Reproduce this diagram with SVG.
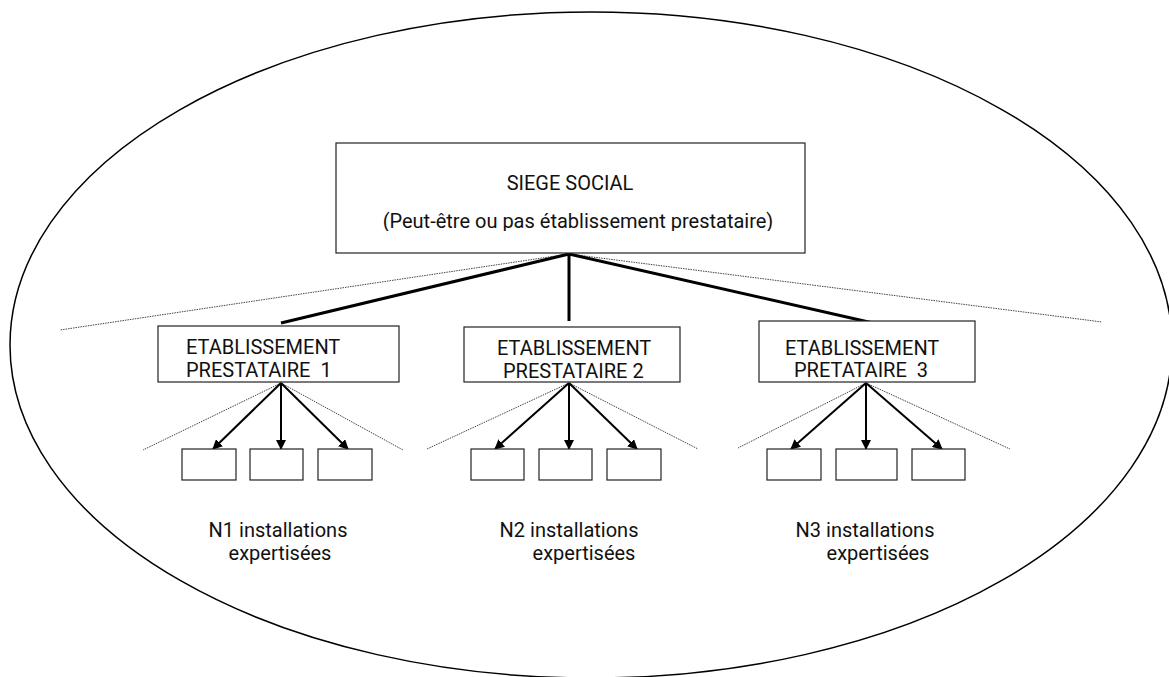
<svg xmlns="http://www.w3.org/2000/svg" width="1169" height="677" viewBox="0 0 1169 677">
<defs>
<style>
.t{font-family:Roboto,"Liberation Sans",sans-serif;fill:#111;font-size:20px;}
.m{text-anchor:middle;}
.box{fill:#fff;stroke:#222;stroke-width:1.2;}
.thick{stroke:#000;stroke-width:3;fill:none;}
.arr{stroke:#000;stroke-width:2;fill:none;marker-end:url(#ah);}
.dot{stroke:#444;stroke-width:1;stroke-dasharray:1.5 1;fill:none;}
</style>
<marker id="ah" viewBox="0 0 10 10" refX="9" refY="5" markerWidth="5" markerHeight="5" orient="auto" markerUnits="strokeWidth">
<path d="M0,0 L10,5 L0,10 z" fill="#000"/>
</marker>
<clipPath id="sc"><rect x="336" y="143" width="469" height="88"/></clipPath>
</defs>
<rect width="1169" height="677" fill="#fff"/>
<ellipse cx="591" cy="345" rx="581" ry="333" fill="none" stroke="#000" stroke-width="1.5"/>
<g id="connectors">
<line class="dot" x1="569" y1="254" x2="60" y2="330"/>
<line class="dot" x1="569" y1="254" x2="1102" y2="322"/>
<line class="thick" x1="569" y1="254" x2="281" y2="323"/>
<line class="thick" x1="569" y1="254" x2="569" y2="321"/>
<line class="thick" x1="569" y1="254" x2="873" y2="323"/>
<line class="dot" x1="281" y1="383" x2="143" y2="450"/>
<line class="dot" x1="281" y1="383" x2="403" y2="450"/>
<line class="arr" x1="281" y1="383" x2="213" y2="449"/>
<line class="arr" x1="281" y1="383" x2="281" y2="449"/>
<line class="arr" x1="281" y1="383" x2="348" y2="449"/>
<line class="dot" x1="569" y1="383" x2="427" y2="449"/>
<line class="dot" x1="569" y1="383" x2="698" y2="449"/>
<line class="arr" x1="569" y1="383" x2="495" y2="449"/>
<line class="arr" x1="569" y1="383" x2="569" y2="449"/>
<line class="arr" x1="569" y1="383" x2="637" y2="449"/>
<line class="dot" x1="866" y1="383" x2="738" y2="448"/>
<line class="dot" x1="866" y1="383" x2="1010" y2="449"/>
<line class="arr" x1="866" y1="383" x2="791" y2="449"/>
<line class="arr" x1="866" y1="383" x2="866" y2="449"/>
<line class="arr" x1="866" y1="383" x2="942" y2="449"/>
</g>
<g id="siege">
<rect class="box" x="336" y="143" width="469" height="110"/>
<text class="t m" x="570" y="190">SIEGE SOCIAL</text>
<text class="t m" x="578" y="228" font-size="22" clip-path="url(#sc)">(Peut-être ou pas établissement prestataire)</text>
</g>
<g id="ep1">
<rect class="box" x="158" y="326" width="241" height="56"/>
<text class="t" x="186" y="354">ETABLISSEMENT</text>
<text class="t" x="186" y="377" xml:space="preserve">PRESTATAIRE  1</text>
</g>
<g id="ep2">
<rect class="box" x="464" y="327" width="216" height="55"/>
<text class="t" x="497" y="355">ETABLISSEMENT</text>
<text class="t" x="503" y="378">PRESTATAIRE 2</text>
</g>
<g id="ep3">
<rect class="box" x="759" y="321" width="216" height="61"/>
<text class="t" x="785" y="355">ETABLISSEMENT</text>
<text class="t" x="794" y="377" xml:space="preserve">PRETATAIRE  3</text>
</g>
<g id="inst1">
<rect class="box" x="182" y="449" width="54" height="31"/>
<rect class="box" x="250" y="449" width="53" height="31"/>
<rect class="box" x="318" y="449" width="54" height="31"/>
<text class="t m" x="278" y="537">N1 installations</text>
<text class="t m" x="280" y="560">expertisées</text>
</g>
<g id="inst2">
<rect class="box" x="471" y="449" width="53" height="31"/>
<rect class="box" x="539" y="449" width="53" height="31"/>
<rect class="box" x="607" y="449" width="54" height="31"/>
<text class="t m" x="569" y="537">N2 installations</text>
<text class="t m" x="584" y="560">expertisées</text>
</g>
<g id="inst3">
<rect class="box" x="767" y="449" width="54" height="31"/>
<rect class="box" x="836" y="449" width="61" height="31"/>
<rect class="box" x="912" y="449" width="53" height="31"/>
<text class="t m" x="865" y="537">N3 installations</text>
<text class="t m" x="878" y="560">expertisées</text>
</g>
</svg>
